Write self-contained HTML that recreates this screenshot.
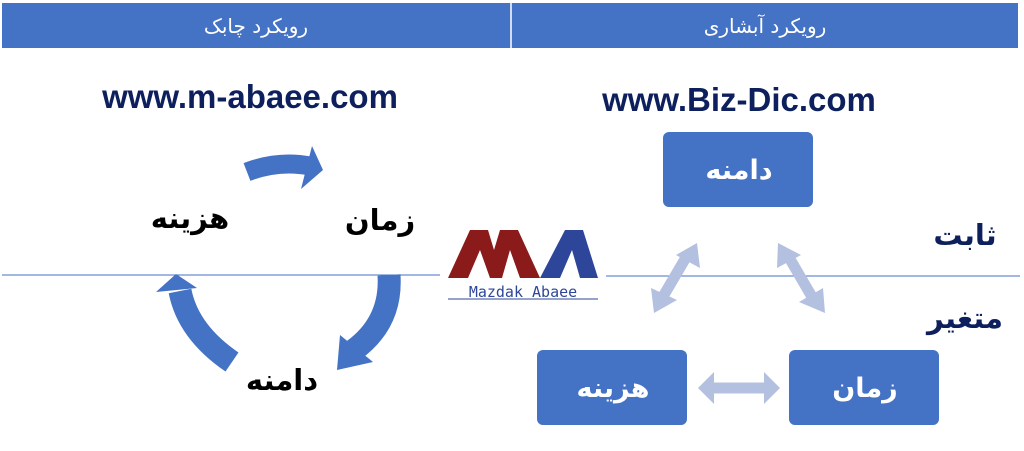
<!DOCTYPE html>
<html><head><meta charset="utf-8"><style>
body{margin:0;width:1024px;height:446px;background:#fff;overflow:hidden;font-family:"Liberation Sans","DejaVu Sans",sans-serif}
</style></head><body>
<svg width="1024" height="446" viewBox="0 0 1024 446" xmlns="http://www.w3.org/2000/svg">
<rect x="2" y="3" width="1016" height="45" fill="#4472C4"/>
<line x1="511" y1="3" x2="511" y2="48" stroke="#fff" stroke-width="1.5"/>
<text x="256" y="33" fill="#fff" font-size="20" text-anchor="middle" font-family="DejaVu Sans,sans-serif">رویکرد چابک</text>
<text x="765" y="33" fill="#fff" font-size="20" text-anchor="middle" font-family="DejaVu Sans,sans-serif">رویکرد آبشاری</text>
<text x="250" y="108" fill="#0D1F5C" font-size="33" font-weight="bold" text-anchor="middle">www.m-abaee.com</text>
<text x="739" y="111" fill="#0D1F5C" font-size="33" font-weight="bold" text-anchor="middle">www.Biz-Dic.com</text>
<line x1="2" y1="275" x2="440" y2="275" stroke="#4472C4" stroke-width="1"/>
<line x1="606" y1="276" x2="1020" y2="276" stroke="#4472C4" stroke-width="1"/>
<!-- cycle arrows -->
<path d="M247 172 Q278 160 310 166" stroke="#4472C4" stroke-width="19" fill="none"/>
<polygon points="312,146 323,170 301,189" fill="#4472C4"/>
<path d="M389 275 Q392 322 354 350" stroke="#4472C4" stroke-width="23" fill="none"/>
<polygon points="340,335 337,370 373,362" fill="#4472C4"/>
<path d="M232 362 Q188 332 180 291" stroke="#4472C4" stroke-width="23" fill="none"/>
<polygon points="156,292 176,274 197,288" fill="#4472C4"/>
<g font-family="DejaVu Sans,sans-serif" font-weight="bold" font-size="29" fill="#000" text-anchor="middle">
<text x="380" y="230">زمان</text>
<text x="190" y="228">هزینه</text>
<text x="282" y="390">دامنه</text>
</g>
<!-- logo -->
<polygon points="448,278 470,230 488,230 494,250 500,230 518,230 540,278 520,278 510,250 502,278 490,278 480,250 468,278" fill="#8B1A1A"/>
<polygon points="540,278 565,230 583,230 598,278 580,278 572,250 560,278" fill="#2E4699"/>
<text x="523" y="297" fill="#2E4699" font-size="15" text-anchor="middle" font-family="DejaVu Sans Mono,monospace">Mazdak Abaee</text>
<line x1="448" y1="299" x2="598" y2="299" stroke="#2E4699"/>
<!-- waterfall boxes -->
<rect x="663" y="132" width="150" height="75" rx="6" fill="#4472C4"/>
<rect x="537" y="350" width="150" height="75" rx="6" fill="#4472C4"/>
<rect x="789" y="350" width="150" height="75" rx="6" fill="#4472C4"/>
<g font-family="DejaVu Sans,sans-serif" font-weight="bold" font-size="27" fill="#fff" text-anchor="middle">
<text x="739" y="179">دامنه</text>
<text x="613" y="397">هزینه</text>
<text x="865" y="397">زمان</text>
</g>
<g stroke="#B4C0E0" stroke-width="11" fill="none">
<line x1="688" y1="254" x2="661" y2="300"/>
<line x1="787" y1="254" x2="815" y2="302"/>
<line x1="706" y1="388" x2="772" y2="388"/>
</g>
<g fill="#B4C0E0">
<polygon points="697,243 700,268 676,255"/>
<polygon points="654,313 651,288 677,300"/>
<polygon points="778,243 801,255 777,268"/>
<polygon points="825,313 823,288 799,302"/>
<polygon points="698,388 714,372 714,404"/>
<polygon points="780,388 764,372 764,404"/>
</g>
<g font-family="DejaVu Sans,sans-serif" font-weight="bold" font-size="29" fill="#0D1F5C" text-anchor="middle">
<text x="965" y="245">ثابت</text>
<text x="965" y="328">متغیر</text>
</g>
</svg>
</body></html>
